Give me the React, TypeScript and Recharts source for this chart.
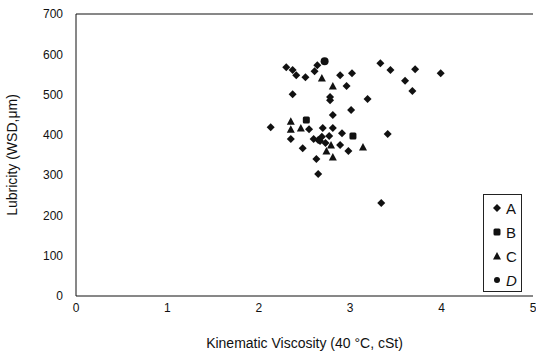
import {
  ScatterChart,
  Scatter,
  XAxis,
  YAxis,
  ReferenceLine,
} from 'recharts';

const xTicks = [0, 1, 2, 3, 4, 5];
const yTicks = [0, 100, 200, 300, 400, 500, 600, 700];

const seriesA = [
  { x: 2.3, y: 568 }, { x: 2.37, y: 561 }, { x: 2.41, y: 548 }, { x: 2.51, y: 543 },
  { x: 2.61, y: 558 }, { x: 2.64, y: 573 }, { x: 2.89, y: 548 }, { x: 3.02, y: 553 },
  { x: 2.96, y: 521 }, { x: 2.37, y: 501 }, { x: 2.78, y: 494 }, { x: 2.78, y: 486 },
  { x: 3.01, y: 462 }, { x: 2.81, y: 449 }, { x: 2.13, y: 419 }, { x: 2.55, y: 414 },
  { x: 2.7, y: 417 }, { x: 2.81, y: 417 }, { x: 2.91, y: 404 }, { x: 2.35, y: 390 },
  { x: 2.6, y: 390 }, { x: 2.65, y: 387 }, { x: 2.67, y: 385 }, { x: 2.69, y: 395 },
  { x: 2.77, y: 397 }, { x: 2.73, y: 380 }, { x: 2.89, y: 375 }, { x: 2.48, y: 367 },
  { x: 2.98, y: 360 }, { x: 2.63, y: 340 }, { x: 2.65, y: 303 }, { x: 3.33, y: 578 },
  { x: 3.44, y: 561 }, { x: 3.71, y: 563 }, { x: 3.6, y: 534 }, { x: 3.68, y: 509 },
  { x: 3.99, y: 553 }, { x: 3.19, y: 489 }, { x: 3.41, y: 402 }, { x: 3.34, y: 231 },
];
const seriesB = [
  { x: 2.52, y: 437 }, { x: 3.03, y: 397 },
];
const seriesC = [
  { x: 2.69, y: 541 }, { x: 2.81, y: 521 }, { x: 2.35, y: 434 }, { x: 2.35, y: 414 },
  { x: 2.46, y: 417 }, { x: 2.79, y: 375 }, { x: 2.74, y: 360 }, { x: 2.81, y: 345 },
  { x: 3.14, y: 370 },
];
const seriesD = [
  { x: 2.72, y: 583 },
];

const font = '"Liberation Sans", Arial, sans-serif';
const ink = '#111';

const Diamond = (p: any) => (
  <polygon
    points={`${p.cx},${p.cy - 4} ${p.cx + 4},${p.cy} ${p.cx},${p.cy + 4} ${p.cx - 4},${p.cy}`}
    fill={ink}
  />
);
const Square = (p: any) => <rect x={p.cx - 3.5} y={p.cy - 3.5} width={7} height={7} rx={1.5} fill={ink} />;
const Triangle = (p: any) => (
  <polygon
    points={`${p.cx},${p.cy - 4} ${p.cx + 4},${p.cy + 3.5} ${p.cx - 4},${p.cy + 3.5}`}
    fill={ink}
  />
);
const Circle = (p: any) => <circle cx={p.cx} cy={p.cy} r={4} fill={ink} />;

const legendItems = [
  { label: 'A', icon: 'diamond' },
  { label: 'B', icon: 'square' },
  { label: 'C', icon: 'triangle' },
  { label: 'D', icon: 'circle' },
];

function LegendIcon({ icon }: { icon: string }) {
  return (
    <svg width={10} height={10} style={{ marginRight: 4 }}>
      {icon === 'diamond' && <Diamond cx={5} cy={5} />}
      {icon === 'square' && <Square cx={5} cy={5} />}
      {icon === 'triangle' && <Triangle cx={5} cy={5} />}
      {icon === 'circle' && <circle cx={5} cy={5} r={3} fill={ink} />}
    </svg>
  );
}

function LegendBox() {
  return (
    <div
      style={{
        position: 'absolute',
        left: 483,
        top: 194,
        border: '1px solid #222',
        width: 39,
        height: 98,
        boxSizing: 'border-box',
        padding: '1px 0 0 8px',
        fontFamily: font,
        fontSize: 15,
        color: ink,
        background: '#fff',
      }}
    >
      {legendItems.map((it) => (
        <div key={it.label} style={{ display: 'flex', alignItems: 'center', height: 24 }}>
          <LegendIcon icon={it.icon} />
          <span style={{ fontStyle: it.label === 'D' ? 'italic' : 'normal' }}>{it.label}</span>
        </div>
      ))}
    </div>
  );
}

export default function App() {
  return (
    <div style={{ position: 'relative', width: 536, height: 359, background: '#fff' }}>
      <style>{'body{margin:0;background:#fff}'}</style>
      <ScatterChart width={536} height={359} margin={{ top: 14, right: 3, left: 0, bottom: 0 }}>
        <XAxis
          type="number"
          dataKey="x"
          domain={[0, 5]}
          ticks={xTicks}
          tickLine={false}
          tickSize={0}
          tickMargin={7}
          height={63}
          stroke={ink}
          tick={{ fontSize: 12, fill: ink, fontFamily: font }}
          label={{
            value: 'Kinematic Viscosity (40 °C, cSt)',
            position: 'insideBottom',
            offset: 11,
            fontSize: 14,
            fill: ink,
            fontFamily: font,
          }}
        />
        <YAxis
          type="number"
          dataKey="y"
          domain={[0, 700]}
          ticks={yTicks}
          tickLine={false}
          tickSize={0}
          tickMargin={13}
          width={76}
          stroke={ink}
          tick={{ fontSize: 12, fill: ink, fontFamily: font }}
          label={{
            value: 'Lubricity (WSD,μm)',
            angle: -90,
            position: 'insideLeft',
            offset: 12,
            style: { textAnchor: 'middle' },
            fontSize: 14,
            fill: ink,
            fontFamily: font,
          }}
        />
        <ReferenceLine y={700} stroke={ink} />
        <Scatter name="A" data={seriesA} shape={Diamond} isAnimationActive={false} />
        <Scatter name="B" data={seriesB} shape={Square} isAnimationActive={false} />
        <Scatter name="C" data={seriesC} shape={Triangle} isAnimationActive={false} />
        <Scatter name="D" data={seriesD} shape={Circle} isAnimationActive={false} />
      </ScatterChart>
      <LegendBox />
    </div>
  );
}
